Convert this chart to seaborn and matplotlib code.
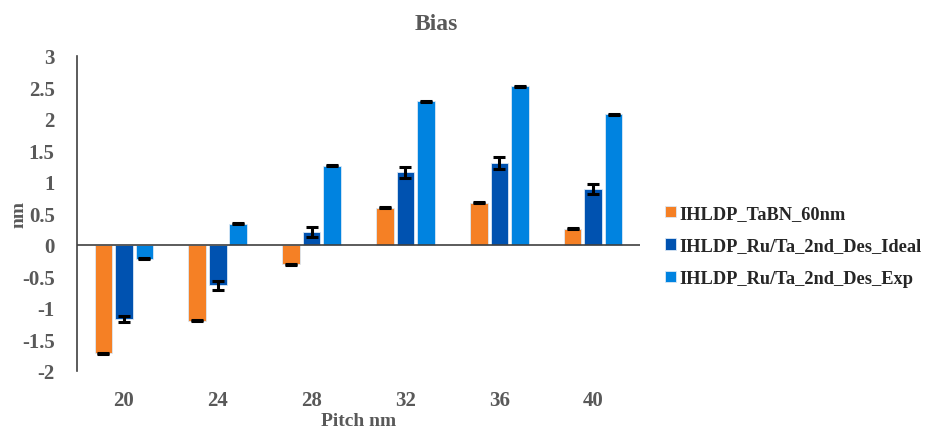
import numpy as np
import pandas as pd
import matplotlib
matplotlib.use("Agg")
import matplotlib.pyplot as plt
import seaborn as sns

pitch = ["20", "24", "28", "32", "36", "40"]
series = ["IHLDP_TaBN_60nm", "IHLDP_Ru/Ta_2nd_Des_Ideal", "IHLDP_Ru/Ta_2nd_Des_Exp"]
bias_tabn = [-1.72, -1.20, -0.31, 0.59, 0.67, 0.26]
bias_ideal = [-1.17, -0.64, 0.21, 1.15, 1.30, 0.89]
bias_exp = [-0.22, 0.34, 1.26, 2.28, 2.52, 2.07]
err_tabn = [0.01, 0.01, 0.01, 0.01, 0.01, 0.01]
err_ideal = [0.05, 0.07, 0.08, 0.09, 0.09, 0.08]
err_exp = [0.01, 0.01, 0.01, 0.01, 0.01, 0.01]
colors = ["#F58025", "#0052B0", "#0083E0"]
yticks = [3, 2.5, 2, 1.5, 1, 0.5, 0, -0.5, -1, -1.5, -2]

df = pd.DataFrame({
    "Pitch": pitch * 3,
    "Series": np.repeat(series, len(pitch)),
    "Bias": bias_tabn + bias_ideal + bias_exp,
    "Err": err_tabn + err_ideal + err_exp,
})

sns.set_theme(style="white")
plt.rcParams["font.family"] = ["Liberation Serif", "DejaVu Serif"]
plt.rcParams["font.weight"] = "bold"
text_color = "#595959"

fig = plt.figure(figsize=(9.25, 4.31), dpi=100)
ax = fig.add_axes([0.0832, 0.137, 0.6088, 0.731])

sns.barplot(data=df, x="Pitch", y="Bias", hue="Series", order=pitch,
            hue_order=series, palette=colors, errorbar=None,
            width=0.655, gap=0.14, edgecolor="#dbe8f5", linewidth=0.6,
            saturation=1, ax=ax)

# error bars placed on each drawn bar
for cont, s in zip(ax.containers, series):
    sub = df[df["Series"] == s].set_index("Pitch").loc[pitch]
    xs = [p.get_x() + p.get_width() / 2 for p in cont.patches]
    ax.errorbar(xs, sub["Bias"].values, yerr=sub["Err"].values, fmt="none",
                ecolor="black", elinewidth=2.2, capsize=4, capthick=2.2, zorder=5)

ax.set_xlim(-0.5, len(pitch) - 0.5)
ax.set_ylim(-2, 3)
ax.set_yticks(yticks)
ax.set_yticklabels([f"{t:g}" for t in yticks])
ax.axhline(0, color="#404040", lw=1.2, zorder=4)
for side in ["top", "right", "bottom"]:
    ax.spines[side].set_visible(False)
ax.spines["left"].set_color("#404040")
ax.spines["left"].set_linewidth(1.2)
ax.tick_params(axis="y", length=0, pad=16, labelsize=15, labelcolor=text_color)
ax.tick_params(axis="x", length=0, pad=14, labelsize=15, labelcolor=text_color)
for lab in ax.get_xticklabels() + ax.get_yticklabels():
    lab.set_fontweight("bold")

ax.set_xlabel("Pitch nm", fontsize=14, fontweight="bold", color=text_color)
ax.xaxis.label.set_va("center")
ax.xaxis.set_label_coords(0.5, -0.157)
ax.set_ylabel("nm", fontsize=14, fontweight="bold", color=text_color)
ax.yaxis.set_label_coords(-0.088, 0.5)
fig.text(436 / 925, 1 - 24 / 431, "Bias", ha="center", va="center",
         fontsize=17, fontweight="bold", color=text_color)

handles, labels = ax.get_legend_handles_labels()
ax.legend(handles, labels, loc="center left", bbox_to_anchor=(1.031, 0.397),
          frameon=False, prop={"weight": "bold", "size": 13.2},
          handlelength=0.6, handleheight=0.6, handletextpad=0.2,
          labelspacing=0.85, borderaxespad=0)

fig.savefig("out.png", dpi=100)
